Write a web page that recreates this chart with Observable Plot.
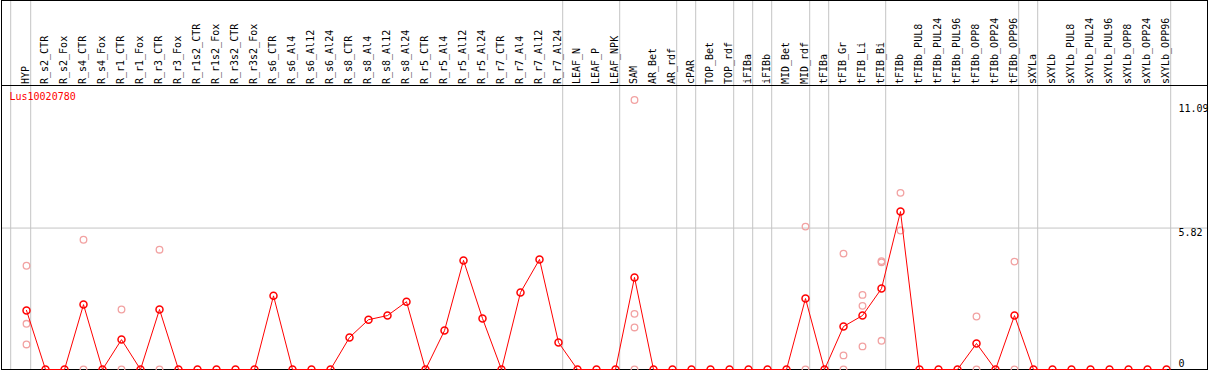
<!DOCTYPE html>
<html>
<head>
<meta charset="utf-8">
<script src="https://cdn.jsdelivr.net/npm/d3@7"></script>
<script src="https://cdn.jsdelivr.net/npm/@observablehq/plot@0.6"></script>
<style>
  html, body { margin: 0; padding: 0; background: #fff; }
  #chart svg { display: block; }
</style>
</head>
<body>
<div id="chart"></div>
<script>
// ---- data ----
const geneName = "Lus10020780";

const categories = [
  "HYP",
  "R_s2_CTR", "R_s2_Fox", "R_s4_CTR", "R_s4_Fox",
  "R_r1_CTR", "R_r1_Fox", "R_r3_CTR", "R_r3_Fox",
  "R_r1s2_CTR", "R_r1s2_Fox", "R_r3s2_CTR", "R_r3s2_Fox",
  "R_s6_CTR", "R_s6_Al4", "R_s6_Al12", "R_s6_Al24",
  "R_s8_CTR", "R_s8_Al4", "R_s8_Al12", "R_s8_Al24",
  "R_r5_CTR", "R_r5_Al4", "R_r5_Al12", "R_r5_Al24",
  "R_r7_CTR", "R_r7_Al4", "R_r7_Al12", "R_r7_Al24",
  "LEAF_N", "LEAF_P", "LEAF_NPK",
  "SAM", "AR_Bet", "AR_rdf", "cPAR", "TOP_Bet", "TOP_rdf",
  "iFIBa", "iFIBb", "MID_Bet", "MID_rdf",
  "tFIBa", "tFIB_Gr", "tFIB_Li", "tFIB_Bi", "tFIBb",
  "tFIBb_PUL8", "tFIBb_PUL24", "tFIBb_PUL96", "tFIBb_OPP8", "tFIBb_OPP24", "tFIBb_OPP96",
  "sXYLa", "sXYLb",
  "sXYLb_PUL8", "sXYLb_PUL24", "sXYLb_PUL96", "sXYLb_OPP8", "sXYLb_OPP24", "sXYLb_OPP96"
];

const means = [
  2.43,
  0, 0, 2.67, 0,
  1.23, 0, 2.47, 0,
  0, 0, 0, 0,
  3.03, 0, 0, 0,
  1.32, 2.05, 2.22, 2.79,
  0, 1.60, 4.49, 2.10,
  0, 3.17, 4.53, 1.11,
  0, 0, 0,
  3.79, 0, 0, 0, 0, 0,
  0, 0, 0, 2.92,
  0, 1.77, 2.22, 3.33, 6.50,
  0, 0, 0, 1.07, 0, 2.22,
  0, 0,
  0, 0, 0, 0, 0, 0
];

const replicateCategories = [
  "HYP", "R_s4_CTR", "R_r1_CTR", "R_r3_CTR", "SAM", "MID_rdf",
  "tFIB_Gr", "tFIB_Li", "tFIB_Bi", "tFIBb", "tFIBb_OPP8", "tFIBb_OPP96"
];
const replicateValues = [
  [4.27, 1.88, 1.03],
  [5.34, 0],
  [2.47, 0],
  [4.93, 0],
  [11.09, 2.29, 1.73, 0],
  [5.88, 0],
  [4.77, 0.58, 0],
  [3.07, 2.62, 0.95],
  [4.41, 4.46, 1.18],
  [7.27, 5.72],
  [2.18, 0],
  [4.44, 0]
];

// group separators: a line is drawn after each of these categories
const groupEnds = [
  "HYP", "R_r7_Al24", "LEAF_NPK", "AR_rdf", "cPAR", "TOP_rdf", "iFIBa", "iFIBb",
  "MID_rdf", "tFIBa", "tFIB_Bi", "tFIBb_OPP96", "sXYLa", "sXYLb_OPP96"
];

const yTicks = [11.09, 5.82, 0];
const yMax = 11.09;

// ---- build tables ----
const rows = categories.map((c, i) => ({cat: c, value: means[i]}));
const reps = replicateCategories.flatMap((c, i) => replicateValues[i].map(v => ({cat: c, value: v})));

const mono = "DejaVu Sans Mono";
const grid = "#c4c4c4";

const chart = Plot.plot({
  width: 1209,
  height: 370,
  marginTop: 85,
  marginBottom: 1,
  marginLeft: 1,
  marginRight: 2,
  style: {fontFamily: mono, fontSize: "10px", background: "#fff", overflow: "visible"},
  x: {type: "point", domain: categories, range: [25.8, 1165.8], padding: 0, axis: null},
  y: {domain: [0, yMax], range: [369, 99.5], axis: null},
  marks: [
    // gridlines
    Plot.ruleY([5.82], {stroke: grid, strokeWidth: 1}),
    Plot.ruleX(groupEnds, {x: d => d, dx: 4.2, stroke: grid, insetTop: -85}),
    Plot.ruleX([categories[0]], {x: d => d, dx: -15.8, stroke: grid, insetTop: -85}),
    // frames
    Plot.frame({stroke: "#000", insetTop: -85}),
    Plot.frame({stroke: "#000"}),
    // category labels (rotated, above plot)
    Plot.text(categories, {
      x: d => d, frameAnchor: "top", dy: -1.5, dx: -1,
      rotate: -90, textAnchor: "start", lineAnchor: "middle",
      fill: "#000", fontFamily: mono, fontSize: 10
    }),
    // right-side value labels
    Plot.text([yTicks[0]], {y: d => d, text: d => d.toFixed(2), frameAnchor: "right", dx: -29, dy: 5, textAnchor: "start", lineAnchor: "top", fill: "#000"}),
    Plot.text([yTicks[1]], {y: d => d, text: d => d.toFixed(2), frameAnchor: "right", dx: -29, dy: 0.5, textAnchor: "start", lineAnchor: "top", fill: "#000"}),
    Plot.text([yTicks[2]], {y: d => d, text: d => String(d), frameAnchor: "right", dx: -29, dy: -3, textAnchor: "start", lineAnchor: "bottom", fill: "#000"}),
    // gene name
    Plot.text([geneName], {text: d => d, frameAnchor: "top-left", dx: 8, dy: 11, textAnchor: "start", lineAnchor: "middle", fill: "red", fontFamily: mono, fontSize: 10}),
    // replicate points
    Plot.dot(reps, {x: "cat", y: "value", r: 3.3, stroke: "#f2a2a2", strokeWidth: 1.3, fill: "none"}),
    // mean line + points
    Plot.line(rows, {x: "cat", y: "value", stroke: "red", strokeWidth: 1}),
    Plot.dot(rows, {x: "cat", y: "value", r: 3.5, stroke: "red", strokeWidth: 1.5, fill: "none"})
  ]
});

document.getElementById("chart").appendChild(chart);
</script>
</body>
</html>
